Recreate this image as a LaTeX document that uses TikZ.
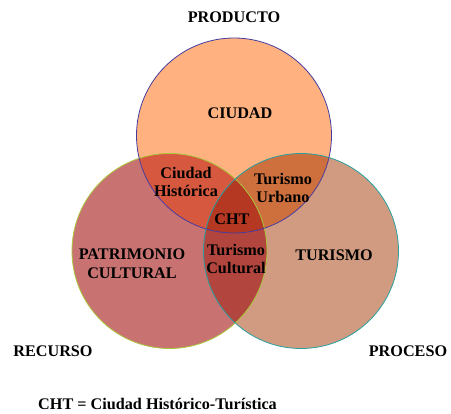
\documentclass[tikz,border=0pt]{standalone}
\usepackage{fontspec}
\setmainfont{Liberation Serif}
\definecolor{topcol}{RGB}{255,178,128}
\definecolor{leftcol}{RGB}{200,114,114}
\definecolor{rightcol}{RGB}{208,155,128}
\definecolor{tlcol}{RGB}{214,88,62}
\definecolor{trcol}{RGB}{205,112,62}
\definecolor{lrcol}{RGB}{178,70,62}
\definecolor{allcol}{RGB}{180,56,34}
\definecolor{topline}{RGB}{70,60,160}
\definecolor{leftline}{RGB}{170,200,60}
\definecolor{rightline}{RGB}{40,160,160}
\tikzset{
  lbl/.style={font=\fontsize{16.2}{18.7}\selectfont\bfseries, align=center, inner sep=0pt, text=black},
}
\begin{document}
\begin{tikzpicture}[x=1pt,y=-1pt]
\useasboundingbox (0,0) rectangle (451,414);
\def\topc{(234,135.5) circle[radius=97.5]}
\def\leftc{(169.5,251) circle[radius=97.5]}
\def\rightc{(301,251) circle[radius=97.5]}
% single fills
\fill[leftcol] \leftc;
\fill[rightcol] \rightc;
\fill[topcol] \topc;
% pairwise
\begin{scope}\clip \topc; \fill[tlcol] \leftc; \end{scope}
\begin{scope}\clip \topc; \fill[trcol] \rightc; \end{scope}
\begin{scope}\clip \leftc; \fill[lrcol] \rightc; \end{scope}
% triple
\begin{scope}\clip \topc; \clip \leftc; \fill[allcol] \rightc; \end{scope}
% outlines
\draw[leftline, line width=0.8pt] \leftc;
\draw[rightline, line width=0.8pt] \rightc;
\draw[topline, line width=0.8pt] \topc;
% labels
\node[lbl] (producto) at (234,17) {PRODUCTO};
\node[lbl] (ciudad) at (240,113) {CIUDAD};
\node[lbl] (ch) at (186,182) {Ciudad\\Histórica};
\node[lbl] (tu) at (283,188) {Turismo\\Urbano};
\node[lbl] (cht) at (232,219) {CHT};
\node[lbl] (pc) at (132,264) {PATRIMONIO\\CULTURAL};
\node[lbl] (tc) at (236,259) {Turismo\\Cultural};
\node[lbl] (turismo) at (334,255) {TURISMO};
\node[lbl] (recurso) at (53,351) {RECURSO};
\node[lbl] (proceso) at (408,351) {PROCESO};
\node[lbl, anchor=west] (legend) at (38,404) {CHT = Ciudad Histórico-Turística};
\end{tikzpicture}
\end{document}
